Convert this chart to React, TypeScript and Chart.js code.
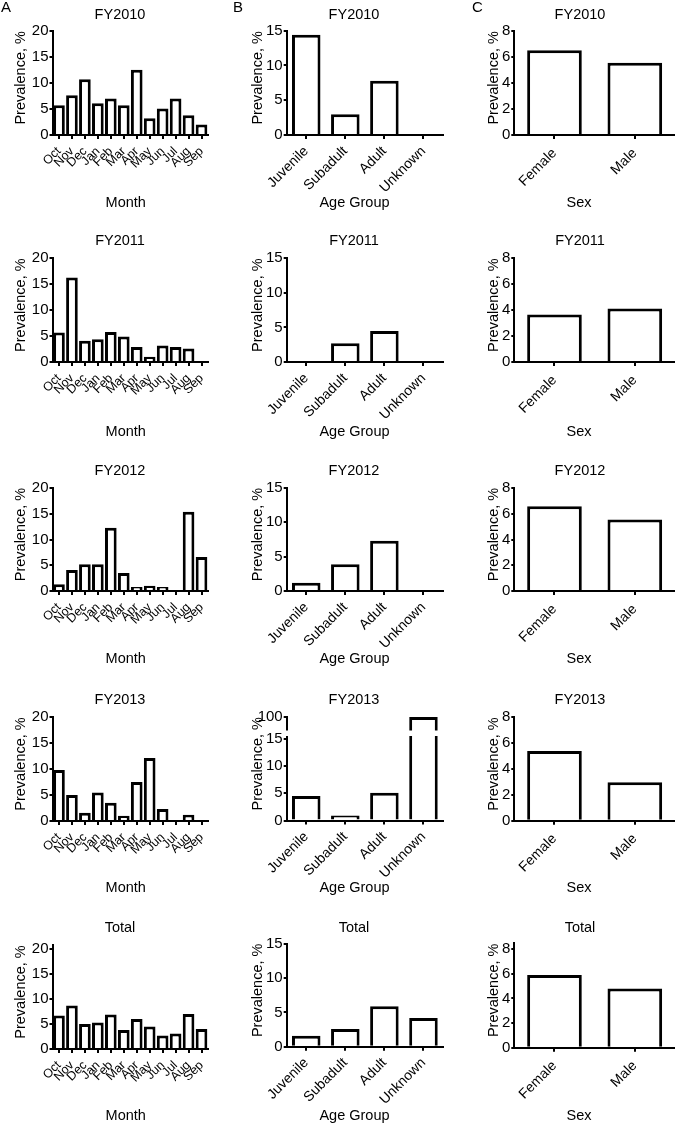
import React, { useEffect, useRef } from 'react';
import { Chart, registerables, LinearScale } from 'chart.js';

const FONT = '"Liberation Sans", Arial, Helvetica, sans-serif';

// ---------------- data ----------------
const MONTHS = ['Oct', 'Nov', 'Dec', 'Jan', 'Feb', 'Mar', 'Apr', 'May', 'Jun', 'Jul', 'Aug', 'Sep'];
const AGE_GROUPS = ['Juvenile', 'Subadult', 'Adult', 'Unknown'];
const SEXES = ['Female', 'Male'];
const PERIODS = ['FY2010', 'FY2011', 'FY2012', 'FY2013', 'Total'];
const PANEL_LETTERS = ['A', 'B', 'C'];
const X_TITLES = ['Month', 'Age Group', 'Sex'];
const Y_TITLE = 'Prevalence, %';

const monthFY2010 = [5.7, 7.6, 10.7, 6.1, 7.0, 5.7, 12.5, 3.2, 5.1, 7.0, 3.8, 2.0];
const monthFY2011 = [5.7, 16.3, 4.1, 4.4, 5.8, 4.9, 2.9, 1.0, 3.2, 2.9, 2.6, 0];
const monthFY2012 = [1.3, 4.1, 5.2, 5.2, 12.3, 3.5, 0.8, 1.0, 0.8, 0, 15.4, 6.6];
const monthFY2013 = [9.8, 5.0, 1.6, 5.5, 3.5, 1.0, 7.5, 12.1, 2.3, 0, 1.2, 0];
const monthTotal = [6.7, 8.7, 5.0, 5.3, 6.9, 3.8, 6.0, 4.5, 2.7, 3.1, 7.0, 4.0];

const ageFY2010 = [14.4, 3.0, 7.8, 0];
const ageFY2011 = [0, 2.7, 4.5, 0];
const ageFY2012 = [1.2, 3.9, 7.3, 0];
const ageFY2013 = [4.5, 0.9, 5.1, 100];
const ageTotal = [1.6, 2.6, 5.9, 4.2];

const sexFY2010 = [6.5, 5.55];
const sexFY2011 = [3.66, 4.13];
const sexFY2012 = [6.58, 5.55];
const sexFY2013 = [5.4, 2.97];
const sexTotal = [5.9, 4.8];

// y-axis ranges / ticks
const monthYMax = [20, 20, 20, 20, 20.8];
const ageYMax = [15, 15, 15, 100, 15];
const sexYMax = [8, 8, 8, 8, 8.5];
const Y_STEPS = [5, 5, 2];
const AGE_BROKEN_TICKS = [0, 5, 10, 15, 100];
const AGE_BREAK_VALUE = 15;

const monthSeries = [monthFY2010, monthFY2011, monthFY2012, monthFY2013, monthTotal];
const ageSeries = [ageFY2010, ageFY2011, ageFY2012, ageFY2013, ageTotal];
const sexSeries = [sexFY2010, sexFY2011, sexFY2012, sexFY2013, sexTotal];

// ---------------- layout ----------------
const CELL = 225;
const COLS = [
  { left: 52.5, right: 208, titleX: 120, xTitleX: 125.7, yTitleX: 20.8, barPct: 0.9, tickFont: 12.5, tickPad: 5, letterX: 1 },
  { left: 61.7, right: 218, titleX: 129, xTitleX: 129.5, yTitleX: 32.5, barPct: 0.73, tickFont: 14, tickPad: 4, letterX: 8 },
  { left: 64.3, right: 225, titleX: 130, xTitleX: 129, yTitleX: 44, barPct: 0.68, tickFont: 14, tickPad: 6, letterX: 22 },
];
const ROWS = [
  { top: [30.7, 30.7, 30.7], bottom: [135, 135, 135], titleY: 15, xTitleY: 203 },
  { top: [33.3, 33.3, 33.3], bottom: [137, 137, 137], titleY: 16.3, xTitleY: 206.7 },
  { top: [38, 38, 38], bottom: [141, 141, 141], titleY: 20.8, xTitleY: 209.3 },
  { top: [42, 42, 42.3], bottom: [146, 145.5, 145.7], titleY: 25, xTitleY: 213.3 },
  { top: [45, 44, 43], bottom: [149, 146.7, 147.7], titleY: 27.5, xTitleY: 216 },
];
const BREAK_LOWER_FRACTION = 0.787;
const BREAK_GAP = [55.5, 61];

class BrokenLinearScale extends LinearScale {
  static id = 'brokenLinear';
  buildTicks() {
    return AGE_BROKEN_TICKS.map((value) => ({ value }));
  }
  getPixelForValue(value: number) {
    if (value === null || value === undefined || isNaN(value)) return NaN;
    const h = this.bottom - this.top;
    if (value <= AGE_BREAK_VALUE) {
      return this.bottom - ((value - this.min) / (AGE_BREAK_VALUE - this.min)) * h * BREAK_LOWER_FRACTION;
    }
    return (
      this.bottom - h * BREAK_LOWER_FRACTION -
      ((value - AGE_BREAK_VALUE) / (this.max - AGE_BREAK_VALUE)) * h * (1 - BREAK_LOWER_FRACTION)
    );
  }
  getValueForPixel(pixel: number) {
    const h = this.bottom - this.top;
    const lowH = h * BREAK_LOWER_FRACTION;
    const d = this.bottom - pixel;
    if (d <= lowH) return this.min + (d / lowH) * (AGE_BREAK_VALUE - this.min);
    return AGE_BREAK_VALUE + ((d - lowH) / (h - lowH)) * (this.max - AGE_BREAK_VALUE);
  }
}

Chart.register(...registerables, BrokenLinearScale);

function textPlugin(row: number, col: number) {
  const g = COLS[col];
  const r = ROWS[row];
  const top = r.top[col];
  const bottom = r.bottom[col];
  return {
    id: 'panelText',
    afterDraw(chart: any) {
      const ctx = chart.ctx;
      ctx.save();
      ctx.fillStyle = '#000';
      ctx.textAlign = 'center';
      ctx.textBaseline = 'middle';
      ctx.font = `14.5px ${FONT}`;
      ctx.fillText(PERIODS[row], g.titleX, r.titleY);
      ctx.fillText(X_TITLES[col], g.xTitleX, r.xTitleY);
      ctx.save();
      ctx.translate(g.yTitleX, (top + bottom) / 2 - 5);
      ctx.rotate(-Math.PI / 2);
      ctx.fillText(Y_TITLE, 0, 0);
      ctx.restore();
      if (row === 0) {
        ctx.textAlign = 'left';
        ctx.font = `15px ${FONT}`;
        ctx.fillText(PANEL_LETTERS[col], g.letterX, 8);
      }
      ctx.restore();
    },
  };
}

const breakPlugin = {
  id: 'axisBreak',
  afterDatasetsDraw(chart: any) {
    const { ctx, chartArea } = chart;
    ctx.save();
    ctx.fillStyle = '#fff';
    ctx.fillRect(chartArea.left - 2, BREAK_GAP[0], chartArea.right - chartArea.left + 4, BREAK_GAP[1] - BREAK_GAP[0]);
    ctx.restore();
  },
};

function buildConfig(row: number, col: number): any {
  const g = COLS[col];
  const r = ROWS[row];
  const labels = [MONTHS, AGE_GROUPS, SEXES][col];
  const values = [monthSeries, ageSeries, sexSeries][col][row];
  const yMax = [monthYMax, ageYMax, sexYMax][col][row];
  const top = r.top[col];
  const bottom = r.bottom[col];
  const isBroken = col === 1 && row === 3;
  const plugins: any[] = [textPlugin(row, col)];
  if (isBroken) plugins.push(breakPlugin);
  return {
    type: 'bar',
    data: {
      labels,
      datasets: [
        {
          data: values,
          backgroundColor: '#ffffff',
          borderColor: '#000000',
          borderWidth: 3,
          borderSkipped: 'start',
          barPercentage: g.barPct,
          categoryPercentage: 1,
        },
      ],
    },
    options: {
      responsive: false,
      animation: false,
      devicePixelRatio: 1,
      layout: { padding: { left: 0, top, right: CELL - g.right, bottom: 0 } },
      plugins: {
        legend: { display: false },
        tooltip: { enabled: false },
        title: { display: false },
      },
      scales: {
        x: {
          type: 'category',
          offset: true,
          grid: {
            display: true,
            drawOnChartArea: false,
            drawTicks: true,
            tickLength: 4,
            lineWidth: 2,
            color: '#000',
            offset: false,
          },
          border: { display: true, color: '#000', width: 2 },
          ticks: {
            autoSkip: false,
            minRotation: 45,
            maxRotation: 45,
            padding: g.tickPad,
            color: '#000',
            font: { family: FONT, size: g.tickFont },
          },
          afterFit: (s: any) => {
            s.height = CELL - bottom;
            s.paddingLeft = 0;
            s.paddingRight = 0;
          },
        },
        y: {
          type: isBroken ? 'brokenLinear' : 'linear',
          min: 0,
          max: yMax,
          grid: {
            display: true,
            drawOnChartArea: false,
            drawTicks: true,
            tickLength: 3,
            lineWidth: 2,
            color: '#000',
          },
          border: { display: true, color: '#000', width: 2 },
          ticks: {
            stepSize: Y_STEPS[col],
            includeBounds: false,
            autoSkip: false,
            padding: 1,
            color: '#000',
            font: { family: FONT, size: 15 },
          },
          afterFit: (s: any) => {
            s.width = g.left;
            s.paddingTop = 0;
            s.paddingBottom = 0;
          },
        },
      },
    },
    plugins,
  };
}

function Panel({ row, col }: { row: number; col: number }) {
  const ref = useRef<HTMLCanvasElement | null>(null);
  useEffect(() => {
    if (!ref.current) return;
    const chart = new Chart(ref.current, buildConfig(row, col));
    return () => chart.destroy();
  }, [row, col]);
  return (
    <canvas
      ref={ref}
      width={CELL}
      height={CELL}
      style={{ position: 'absolute', left: col * CELL, top: row * CELL, width: CELL, height: CELL, display: 'block' }}
    />
  );
}

export default function App() {
  const cells: React.ReactNode[] = [];
  for (let row = 0; row < PERIODS.length; row++) {
    for (let col = 0; col < 3; col++) {
      cells.push(<Panel key={`${row}-${col}`} row={row} col={col} />);
    }
  }
  return (
    <div style={{ position: 'absolute', left: 0, top: 0, width: 675, height: 1125, background: '#fff', overflow: 'hidden' }}>
      {cells}
    </div>
  );
}
